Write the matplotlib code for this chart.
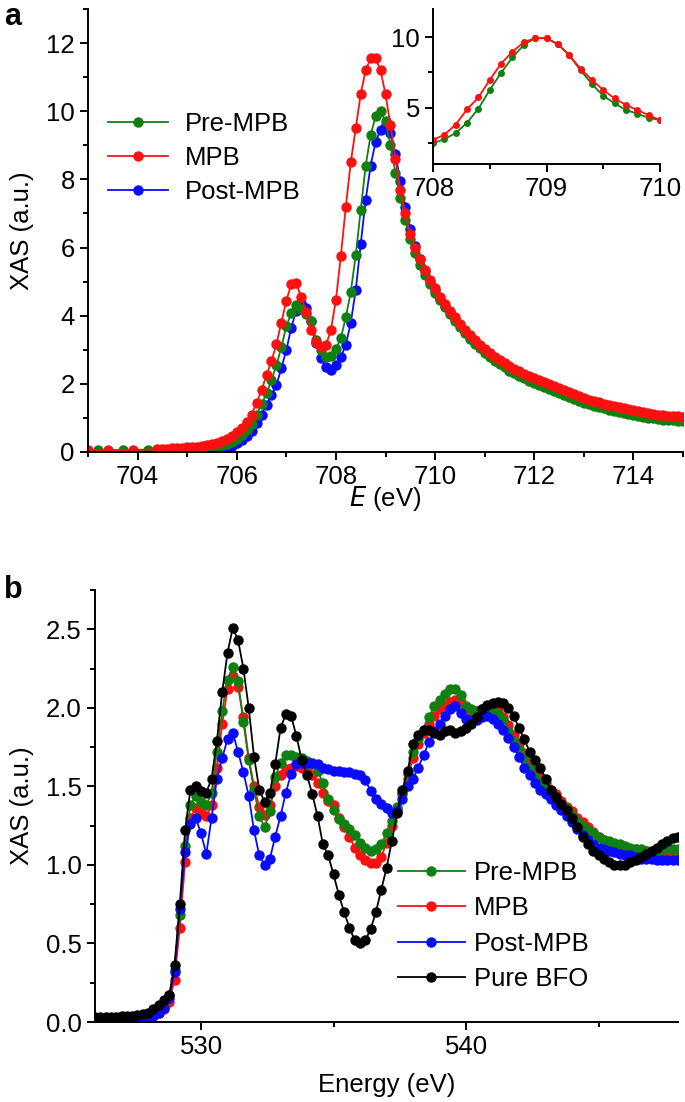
import numpy as np
import matplotlib
matplotlib.use("Agg")
import matplotlib.pyplot as plt
from matplotlib.ticker import MultipleLocator, FormatStrFormatter
from matplotlib.lines import Line2D

plt.rcParams['font.family'] = ['Liberation Sans', 'DejaVu Sans']

# ---------------- Panel a data (Fe L3 edge) ----------------
E_a_grid = list(np.round(np.arange(704.4, 715.0001, 0.1), 2))
E_pre_red = [703.0, 703.4, 703.9]
pre_red = [0.05, 0.05, 0.06]
E_pre_green = [703.2, 703.7, 704.2]
pre_green = [0.05, 0.05, 0.06]

mpb_a = [0.08, 0.09, 0.1, 0.11, 0.12, 0.13, 0.14, 0.15, 0.16, 0.17,
         0.2, 0.23, 0.27, 0.32, 0.38, 0.46, 0.58, 0.7, 0.88, 1.1,
         1.44, 1.81, 2.26, 2.67, 3.16, 3.8, 4.44, 4.92, 4.95, 4.55,
         4.12, 3.58, 3.24, 3.09, 3.14, 3.58, 4.46, 5.76, 7.2, 8.5,
         9.5, 10.5, 11.2, 11.55, 11.55, 11.2, 10.5, 9.6, 8.6, 7.7,
         7.0, 6.4, 6.0, 5.65, 5.35, 5.05, 4.8, 4.55, 4.35, 4.15,
         3.95, 3.75, 3.58, 3.42, 3.28, 3.15, 3.02, 2.9, 2.8, 2.7,
         2.6, 2.52, 2.44, 2.37, 2.3, 2.23, 2.17, 2.11, 2.05, 1.99,
         1.93, 1.87, 1.81, 1.75, 1.69, 1.64, 1.59, 1.54, 1.5, 1.46,
         1.42, 1.38, 1.34, 1.31, 1.28, 1.25, 1.22, 1.19, 1.16, 1.14,
         1.12, 1.1, 1.08, 1.07, 1.06, 1.05, 1.04]
pre_a = [0.05, 0.06, 0.06, 0.07, 0.08, 0.08, 0.09, 0.1, 0.11, 0.12,
         0.13, 0.15, 0.17, 0.2, 0.24, 0.3, 0.38, 0.5, 0.65, 0.83,
         1.1, 1.4, 1.72, 2.1, 2.55, 3.07, 3.7, 4.07, 4.31, 4.2,
         4.05, 3.85, 3.3, 2.99, 2.8, 2.81, 3.01, 3.35, 3.95, 4.7,
         5.78, 7.1, 8.4, 9.3, 9.85, 10.0, 9.7, 9.0, 8.2, 7.45,
         6.8, 6.25, 5.85, 5.5, 5.2, 4.92, 4.68, 4.45, 4.25, 4.05,
         3.85, 3.66, 3.48, 3.32, 3.17, 3.04, 2.91, 2.79, 2.68, 2.58,
         2.48, 2.39, 2.31, 2.23, 2.16, 2.09, 2.02, 1.96, 1.9, 1.84,
         1.78, 1.72, 1.66, 1.6, 1.55, 1.5, 1.45, 1.4, 1.36, 1.32,
         1.28, 1.24, 1.2, 1.17, 1.14, 1.11, 1.08, 1.05, 1.03, 1.01,
         0.99, 0.97, 0.95, 0.94, 0.93, 0.92, 0.91]
post_a = [0.0, 0.0, 0.0, 0.0, 0.0, 0.01, 0.01, 0.02, 0.02, 0.03,
          0.04, 0.05, 0.06, 0.08, 0.12, 0.18, 0.26, 0.36, 0.48, 0.63,
          0.85, 1.1, 1.38, 1.66, 1.96, 2.46, 2.99, 3.65, 4.15, 4.36,
          4.22, 3.85, 3.2, 2.75, 2.48, 2.4, 2.55, 2.78, 3.15, 3.8,
          4.75, 6.1, 7.4, 8.4, 9.1, 9.45, 9.6, 9.35, 8.75, 7.95,
          7.2, 6.55, 6.05, 5.65, 5.3, 5.0, 4.74, 4.5, 4.29, 4.1,
          3.9, 3.72, 3.55, 3.4, 3.25, 3.12, 2.99, 2.87, 2.76, 2.66,
          2.56, 2.47, 2.39, 2.31, 2.24, 2.17, 2.1, 2.04, 1.98, 1.92,
          1.86, 1.8, 1.74, 1.68, 1.63, 1.58, 1.53, 1.48, 1.44, 1.4,
          1.36, 1.32, 1.28, 1.25, 1.22, 1.19, 1.16, 1.13, 1.11, 1.09,
          1.07, 1.05, 1.03, 1.02, 1.01, 1.0, 0.99]

# inset (normalised, aligned peaks)
E_inset = list(np.round(np.arange(708.0, 710.0001, 0.1), 2))
inset_mpb = [2.71, 3.07, 3.8, 4.88, 5.72, 6.97, 8.12, 8.97, 9.64, 9.93,
             9.93, 9.5, 8.73, 7.76, 6.97, 6.25, 5.65, 5.19, 4.83, 4.47, 4.11]
inset_pre = [2.47, 2.76, 3.2, 3.92, 4.93, 6.25, 7.47, 8.56, 9.45, 9.93,
             9.93, 9.5, 8.73, 7.65, 6.68, 5.84, 5.31, 4.83, 4.57, 4.28, 4.11]

# ---------------- Panel b data (O K edge) ----------------
E_b = list(np.round(np.arange(526.0, 548.0001, 0.2), 2))
bfo_b = [0.03, 0.03, 0.03, 0.03, 0.035, 0.04, 0.04, 0.04, 0.045, 0.05,
         0.06, 0.08, 0.11, 0.14, 0.17, 0.36, 0.75, 1.22, 1.48, 1.5,
         1.47, 1.46, 1.55, 1.79, 2.1, 2.35, 2.51, 2.43, 2.25, 2.0,
         1.69, 1.48, 1.4, 1.46, 1.64, 1.87, 1.96, 1.95, 1.82, 1.67,
         1.57, 1.45, 1.31, 1.13, 1.06, 0.94, 0.81, 0.7, 0.6, 0.52,
         0.5, 0.52, 0.59, 0.7, 0.84, 0.98, 1.15, 1.33, 1.48, 1.6,
         1.77, 1.83, 1.86, 1.86, 1.84, 1.83, 1.85, 1.86, 1.84, 1.85,
         1.87, 1.9, 1.94, 1.99, 2.02, 2.03, 2.04, 2.03, 2.0, 1.95,
         1.87, 1.8, 1.72, 1.67, 1.62, 1.55, 1.48, 1.43, 1.39, 1.35,
         1.3, 1.24, 1.18, 1.13, 1.09, 1.06, 1.04, 1.02, 1.0, 1.0,
         1.0, 1.02, 1.03, 1.05, 1.07, 1.09, 1.11, 1.13, 1.15, 1.17,
         1.18]
pre_b = [0.02, 0.02, 0.02, 0.02, 0.02, 0.02, 0.02, 0.025, 0.03, 0.03,
         0.04, 0.05, 0.07, 0.1, 0.17, 0.33, 0.68, 1.12, 1.38, 1.44,
         1.4, 1.38, 1.46, 1.72, 1.98, 2.18, 2.26, 2.17, 1.91, 1.67,
         1.48, 1.31, 1.24, 1.34, 1.56, 1.65, 1.7, 1.7, 1.69, 1.68,
         1.66, 1.64, 1.6, 1.52, 1.42, 1.35, 1.29, 1.26, 1.23, 1.19,
         1.14, 1.11, 1.09, 1.1, 1.13, 1.2, 1.28, 1.37, 1.46, 1.58,
         1.72, 1.8, 1.86, 1.94, 2.01, 2.05, 2.09, 2.12, 2.12, 2.08,
         2.01, 1.99, 1.98, 1.99, 1.99, 1.98, 1.96, 1.92, 1.85, 1.79,
         1.74, 1.68, 1.62, 1.56, 1.52, 1.49, 1.46, 1.43, 1.39, 1.36,
         1.32, 1.28, 1.25, 1.22, 1.2, 1.18, 1.16, 1.15, 1.14, 1.13,
         1.12, 1.11, 1.1, 1.1, 1.09, 1.09, 1.09, 1.1, 1.1, 1.1,
         1.1]
mpb_b = [0.02, 0.02, 0.02, 0.02, 0.02, 0.02, 0.02, 0.025, 0.03, 0.03,
         0.03, 0.04, 0.06, 0.08, 0.13, 0.27, 0.6, 1.02, 1.3, 1.36,
         1.33, 1.31, 1.38, 1.62, 1.9, 2.12, 2.2, 2.13, 1.94, 1.68,
         1.5, 1.37, 1.32, 1.38, 1.5, 1.57, 1.61, 1.62, 1.63, 1.62,
         1.6, 1.57, 1.52, 1.46, 1.41, 1.38, 1.3, 1.24, 1.18, 1.11,
         1.06, 1.03, 1.01, 1.01, 1.05, 1.14, 1.25, 1.35, 1.45, 1.55,
         1.68, 1.77, 1.84, 1.9, 1.95, 1.99, 2.02, 2.04, 2.05, 2.04,
         2.0, 1.98, 1.98, 1.99, 2.0, 2.0, 1.98, 1.94, 1.89, 1.83,
         1.77, 1.71, 1.66, 1.61, 1.56, 1.52, 1.48, 1.45, 1.41, 1.37,
         1.34, 1.3, 1.27, 1.24, 1.21, 1.18, 1.16, 1.14, 1.13, 1.12,
         1.11, 1.1, 1.1, 1.09, 1.09, 1.08, 1.08, 1.08, 1.08, 1.08,
         1.08]
post_b = [0.02, 0.02, 0.02, 0.02, 0.02, 0.02, 0.02, 0.025, 0.03, 0.03,
          0.03, 0.04, 0.06, 0.09, 0.15, 0.32, 0.72, 1.08, 1.26, 1.3,
          1.2, 1.07, 1.3, 1.55, 1.68, 1.8, 1.84, 1.72, 1.59, 1.44,
          1.22, 1.06, 1.0, 1.04, 1.18, 1.31, 1.46, 1.58, 1.64, 1.65,
          1.65, 1.65, 1.64, 1.62, 1.61, 1.6, 1.6, 1.59, 1.59, 1.58,
          1.57, 1.54, 1.47, 1.42, 1.39, 1.36, 1.33, 1.34, 1.42, 1.5,
          1.55, 1.62, 1.7, 1.78, 1.85, 1.9, 1.95, 1.99, 2.01, 1.97,
          1.93, 1.92, 1.92, 1.94, 1.95, 1.93, 1.9, 1.86, 1.81, 1.75,
          1.69, 1.62, 1.57, 1.52, 1.48, 1.45, 1.42, 1.38, 1.35, 1.31,
          1.27, 1.23, 1.19, 1.16, 1.13, 1.11, 1.1, 1.09, 1.08, 1.07,
          1.06, 1.06, 1.05, 1.04, 1.04, 1.04, 1.03, 1.03, 1.03, 1.03,
          1.03]

labels = ["Pre-MPB", "MPB", "Post-MPB", "Pure BFO"]
GREEN, RED, BLUE, BLACK = "#108010", "#ff1010", "#0a0aff", "#000000"

W, H = 685, 1102
fig = plt.figure(figsize=(W / 100, H / 100), dpi=100)

def rect(l, t, r, b):
    return [l / W, 1 - b / H, (r - l) / W, (b - t) / H]

FS = 18.5
LW_AX = 1.4

def style(ax):
    for s in ("top", "right"):
        ax.spines[s].set_visible(False)
    for s in ("left", "bottom"):
        ax.spines[s].set_linewidth(LW_AX)
    ax.tick_params(which="major", direction="out", length=6, width=LW_AX, labelsize=FS, pad=3.5)
    ax.tick_params(which="minor", direction="out", length=3.5, width=LW_AX)

ms = 7.5
lw = 1.3

# ---------------- Panel a ----------------
axa = fig.add_axes(rect(88, 9, 683, 452))
style(axa)
axa.plot(E_a_grid, post_a, '-o', color=BLUE, ms=ms, lw=lw, mec='none')
axa.plot(E_pre_green + E_a_grid, pre_green + pre_a, '-o', color=GREEN, ms=ms, lw=lw, mec='none')
axa.plot(E_pre_red + E_a_grid, pre_red + mpb_a, '-o', color=RED, ms=ms, lw=lw, mec='none')
axa.set_xlim(703, 715)
axa.set_ylim(0, 13)
axa.xaxis.set_major_locator(MultipleLocator(2))
axa.xaxis.set_minor_locator(MultipleLocator(1))
axa.yaxis.set_major_locator(MultipleLocator(2))
axa.yaxis.set_minor_locator(MultipleLocator(1))
axa.set_xlabel(r"$\mathit{E}$ (eV)", fontsize=FS)
axa.set_ylabel("XAS (a.u.)", fontsize=FS)
axa.xaxis.label.set_va("center")
axa.xaxis.set_label_coords(0.5, -(499 - 452) / 443)
axa.yaxis.label.set_va("center")
axa.yaxis.set_label_coords((22 - 88) / 595, 0.5)

handles_a = [Line2D([], [], color=c, marker='o', ms=ms, lw=lw, mec='none') for c in (GREEN, RED, BLUE)]
axa.legend(handles_a, labels[:3], loc="upper left", bbox_to_anchor=(108 / W, 1 - 112 / H),
           bbox_transform=fig.transFigure, frameon=False, fontsize=FS,
           handlelength=2.33, handletextpad=0.66, labelspacing=0.39, borderaxespad=0, borderpad=0)

# inset
axi = fig.add_axes(rect(433, 9, 660, 164))
style(axi)
axi.plot(E_inset, inset_pre, '-o', color=GREEN, ms=5, lw=lw, mec='none')
axi.plot(E_inset, inset_mpb, '-o', color=RED, ms=5, lw=lw, mec='none')
axi.set_xlim(708, 710)
axi.set_ylim(1, 12)
axi.xaxis.set_major_locator(MultipleLocator(1))
axi.xaxis.set_minor_locator(MultipleLocator(0.5))
axi.yaxis.set_major_locator(MultipleLocator(5))
axi.yaxis.set_minor_locator(MultipleLocator(2.5))
axi.patch.set_alpha(0)

fig.text(4 / W, 1 - 2 / H, "a", fontsize=22, fontweight="bold", va="top", ha="left")

# ---------------- Panel b ----------------
axb = fig.add_axes(rect(95, 590, 678, 1022))
style(axb)
axb.plot(E_b, mpb_b, '-o', color=RED, ms=ms, lw=lw, mec='none')
axb.plot(E_b, pre_b, '-o', color=GREEN, ms=ms, lw=lw, mec='none')
axb.plot(E_b, post_b, '-o', color=BLUE, ms=ms, lw=lw, mec='none')
axb.plot(E_b, bfo_b, '-o', color=BLACK, ms=ms, lw=lw, mec='none')
axb.set_xlim(526, 548)
axb.set_ylim(0, 2.75)
axb.xaxis.set_major_locator(MultipleLocator(10))
axb.xaxis.set_minor_locator(MultipleLocator(5))
axb.yaxis.set_major_locator(MultipleLocator(0.5))
axb.yaxis.set_minor_locator(MultipleLocator(0.25))
axb.yaxis.set_major_formatter(FormatStrFormatter("%.1f"))
axb.set_xlabel("Energy (eV)", fontsize=FS)
axb.set_ylabel("XAS (a.u.)", fontsize=FS)
axb.xaxis.label.set_va("center")
axb.xaxis.set_label_coords(0.5, -(1085 - 1022) / 432)
axb.yaxis.label.set_va("center")
axb.yaxis.set_label_coords((22 - 95) / 583, 0.5)

handles_b = [Line2D([], [], color=c, marker='o', ms=ms, lw=lw, mec='none') for c in (GREEN, RED, BLUE, BLACK)]
axb.legend(handles_b, labels, loc="upper left", bbox_to_anchor=(398 / W, 1 - 861 / H),
           bbox_transform=fig.transFigure, frameon=False, fontsize=FS,
           handlelength=2.6, handletextpad=0.35, labelspacing=0.44, borderaxespad=0, borderpad=0)

fig.text(4 / W, 1 - 575 / H, "b", fontsize=22, fontweight="bold", va="top", ha="left")

fig.savefig("out.png", dpi=100)
